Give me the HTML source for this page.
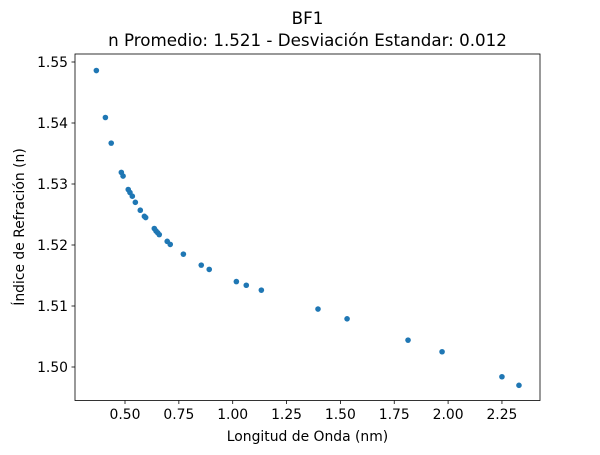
<!DOCTYPE html>
<html><head><meta charset="utf-8"><style>
body{margin:0;background:#fff;font-family:"Liberation Sans","DejaVu Sans",sans-serif}
svg text{font-family:"DejaVu Sans","Liberation Sans",sans-serif;fill:#000}
</style></head><body>
<svg id="chart" width="600" height="450">
<text x="307.5" y="24" font-size="16.7" text-anchor="middle">BF1</text>
<text x="307.5" y="46" font-size="16.7" text-anchor="middle">n Promedio: 1.521 - Desviación Estandar: 0.012</text>
<g id="axes"></g>
<rect x="75" y="54" width="465" height="346.5" fill="none" stroke="#000" stroke-width="0.8"/>
<text x="307.5" y="441" font-size="13.9" text-anchor="middle">Longitud de Onda (nm)</text>
<text transform="translate(24,227) rotate(-90)" font-size="13.9" text-anchor="middle">Índice de Refración (n)</text>
</svg>
<script>
const xVals=[0.367,0.409,0.436,0.483,0.491,0.515,0.523,0.534,0.548,0.571,0.590,0.596,0.636,0.644,0.652,0.659,0.696,0.710,0.771,0.854,0.891,1.017,1.063,1.133,1.396,1.531,1.814,1.972,2.250,2.329];
const yVals=[1.5486,1.5409,1.5367,1.5319,1.5313,1.5291,1.5286,1.5280,1.5270,1.5257,1.5247,1.5245,1.5227,1.5223,1.5220,1.5217,1.5206,1.5201,1.5185,1.5167,1.5160,1.5140,1.5134,1.5126,1.5095,1.5079,1.5044,1.5025,1.4984,1.4970];
const xTicks=[0.5,0.75,1.0,1.25,1.5,1.75,2.0,2.25];
const xTickLabels=["0.50","0.75","1.00","1.25","1.50","1.75","2.00","2.25"];
const yTicks=[1.50,1.51,1.52,1.53,1.54,1.55];
const yTickLabels=["1.50","1.51","1.52","1.53","1.54","1.55"];
const X=v=>125+(v-0.5)*215.4;
const Y=v=>62+(1.55-v)*6100;
const ns="http://www.w3.org/2000/svg";
const g=document.getElementById('axes');
function mk(t,a){const e=document.createElementNS(ns,t);for(const k in a)e.setAttribute(k,a[k]);g.appendChild(e);return e;}
xTicks.forEach((v,i)=>{
  const l=mk('line',{x1:X(v),x2:X(v),y1:400.5,y2:404,stroke:'#000','stroke-width':0.8});
  
  
  const t=mk('text',{x:X(v),y:419,'font-size':13.9,'text-anchor':'middle'});t.textContent=xTickLabels[i];
  
  
});
yTicks.forEach((v,i)=>{
  const l=mk('line',{x1:71.5,x2:75,y1:Y(v),y2:Y(v),stroke:'#000','stroke-width':0.8});
  
  
  const t=mk('text',{x:68,y:Y(v)+5,'font-size':13.9,'text-anchor':'end'});t.textContent=yTickLabels[i];
  
  
});
xVals.forEach((v,i)=>{
  const c=mk('circle',{cx:X(v),cy:Y(yVals[i]),r:2.8,fill:'#1f77b4'});
  
  
});
</script>
</body></html>
